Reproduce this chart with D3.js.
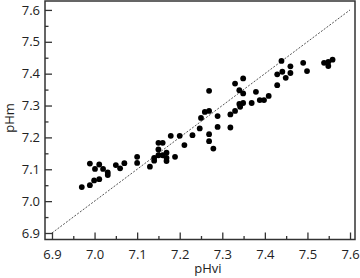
<!DOCTYPE html>
<html><head><meta charset="utf-8">
<script src="https://cdn.jsdelivr.net/npm/d3@7"></script>
<style>
html,body{margin:0;padding:0;background:#fff;}
svg{display:block;font-family:"Open Sans",sans-serif;}
</style></head>
<body>
<svg id="c" width="360" height="278"></svg>
<script>
const pHvi = [6.970,6.989,6.989,6.999,7.001,7.011,7.011,7.020,7.031,7.031,7.050,7.060,7.070,7.100,7.100,7.130,7.140,7.140,7.150,7.150,7.150,7.160,7.160,7.169,7.169,7.169,7.179,7.189,7.200,7.211,7.230,7.247,7.269,7.269,7.279,7.289,7.319,7.250,7.259,7.269,7.269,7.289,7.319,7.330,7.330,7.340,7.340,7.349,7.342,7.349,7.349,7.369,7.379,7.388,7.398,7.409,7.429,7.429,7.439,7.441,7.460,7.460,7.449,7.490,7.499,7.539,7.549,7.549,7.559];
const pHm  = [7.044,7.118,7.050,7.065,7.101,7.069,7.115,7.101,7.090,7.082,7.113,7.103,7.119,7.139,7.120,7.108,7.127,7.136,7.144,7.162,7.183,7.183,7.144,7.152,7.136,7.126,7.205,7.139,7.205,7.176,7.207,7.228,7.210,7.188,7.165,7.233,7.231,7.261,7.280,7.283,7.346,7.267,7.272,7.283,7.369,7.348,7.305,7.308,7.296,7.338,7.385,7.308,7.343,7.317,7.317,7.330,7.364,7.398,7.440,7.406,7.423,7.402,7.387,7.434,7.408,7.434,7.424,7.437,7.444];
const ticks = [6.9,7.0,7.1,7.2,7.3,7.4,7.5,7.6];
const minorTicks = [6.95,7.05,7.15,7.25,7.35,7.45,7.55];
const identity = [6.9,7.6];

const svg = d3.select("#c");
const L=45, R=355, T=1, B=239.5;
const x = d3.scaleLinear().domain([6.8836,7.6117]).range([L,R]);
const y = d3.scaleLinear().domain([6.8796,7.628]).range([B,T]);
const ink="#333";

// identity line
svg.append("line")
  .attr("x1",x(identity[0])).attr("y1",y(identity[0]))
  .attr("x2",x(identity[1])).attr("y2",y(identity[1]))
  .attr("stroke","#555").attr("stroke-width",1).attr("stroke-dasharray","2,1.5");

// frame
svg.append("rect").attr("x",L).attr("y",T).attr("width",R-L).attr("height",B-T)
  .attr("fill","none").attr("stroke",ink).attr("stroke-width",1.5);

// axes with inward ticks
const fmt = d3.format(".1f");
const xAxis = svg.append("g").attr("transform",`translate(0,${B})`)
  .call(d3.axisBottom(x).tickValues(ticks).tickFormat(fmt).tickSizeInner(-7).tickSizeOuter(0).tickPadding(10));
const yAxis = svg.append("g").attr("transform",`translate(${L},0)`)
  .call(d3.axisLeft(y).tickValues(ticks).tickFormat(fmt).tickSizeInner(-7).tickSizeOuter(0).tickPadding(5));
svg.append("g").attr("transform",`translate(0,${B})`)
  .call(d3.axisBottom(x).tickValues(minorTicks).tickFormat("").tickSizeInner(-3.5).tickSizeOuter(0));
svg.append("g").attr("transform",`translate(${L},0)`)
  .call(d3.axisLeft(y).tickValues(minorTicks).tickFormat("").tickSizeInner(-3.5).tickSizeOuter(0));
svg.selectAll(".domain").remove();
svg.selectAll(".tick line").attr("stroke",ink).attr("stroke-width",1.3);
svg.selectAll(".tick text").attr("fill","#222").style("font-size","13px").style("font-family","'Open Sans',sans-serif");

// points
svg.append("g").selectAll("circle").data(pHvi).join("circle")
  .attr("cx",(d)=>x(d)).attr("cy",(d,i)=>y(pHm[i])).attr("r",2.9).attr("fill","#000");

// axis titles
svg.append("text").attr("x",208).attr("y",273).attr("text-anchor","middle")
  .attr("fill","#222").style("font-size","13px").text("pHvi");
svg.append("text").attr("transform","translate(14,118) rotate(-90)").attr("text-anchor","middle")
  .attr("fill","#222").style("font-size","13px").text("pHm");
</script>
</body></html>
